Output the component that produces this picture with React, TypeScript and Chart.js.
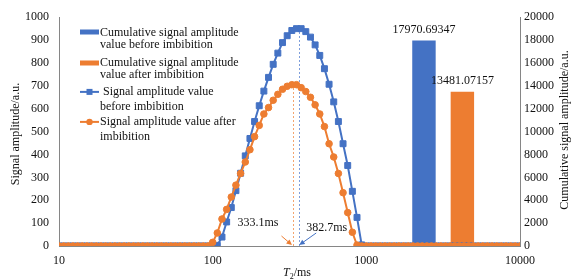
import React, { useEffect, useRef } from 'react';
import { Chart, registerables } from 'chart.js';

Chart.register(...registerables);

// T2 grid (ms), log-spaced
const T2 = [
  10, 10.72, 11.5, 12.33, 13.22, 14.17, 15.2, 16.3, 17.48, 18.74,
  20.09, 21.54, 23.1, 24.77, 26.56, 28.48, 30.54, 32.75, 35.11, 37.65,
  40.37, 43.29, 46.42, 49.77, 53.37, 57.22, 61.36, 65.79, 70.55, 75.65,
  81.11, 86.97, 93.26, 100, 107.2, 115.0, 123.3, 132.2, 141.7, 152.0,
  163.0, 174.8, 187.4, 200.9, 215.4, 231.0, 247.7, 265.6, 284.8, 305.4,
  327.5, 351.1, 376.5, 403.7, 432.9, 464.2, 497.7, 533.7, 572.2, 613.6,
  657.9, 705.5, 756.5, 811.1, 869.7, 932.6, 1000, 1072, 1150, 1233,
  1322, 1417, 1520, 1630, 1748, 1874, 2009, 2154, 2310, 2477,
  2656, 2848, 3054, 3275, 3511, 3765, 4037, 4329, 4642, 4977,
  5337, 5722, 6136, 6579, 7055, 7565, 8111, 8697, 9326, 10000,
];

// Signal amplitude before imbibition (a.u.)
const beforeAmp = [
  0, 0, 0, 0, 0, 0, 0, 0, 0, 0,
  0, 0, 0, 0, 0, 0, 0, 0, 0, 0,
  0, 0, 0, 0, 0, 0, 0, 0, 0, 0,
  0, 0, 0, 0, 3, 39, 105, 168, 242, 318,
  394, 470, 544, 613, 677, 737, 794, 843, 889, 919,
  942, 950, 950, 937, 913, 879, 833, 775, 707, 630,
  544, 447, 352, 239, 125, 5, 0, 0, 0, 0,
  0, 0, 0, 0, 0, 0, 0, 0, 0, 0,
  0, 0, 0, 0, 0, 0, 0, 0, 0, 0,
  0, 0, 0, 0, 0, 0, 0, 0, 0, 0,
];

// Signal amplitude after imbibition (a.u.)
const afterAmp = [
  0, 0, 0, 0, 0, 0, 0, 0, 0, 0,
  0, 0, 0, 0, 0, 0, 0, 0, 0, 0,
  0, 0, 0, 0, 0, 0, 0, 0, 0, 0,
  0, 0, 0, 16, 57, 118, 160, 214, 266, 317,
  367, 421, 478, 527, 577, 605, 637, 663, 685, 698,
  705, 705, 692, 675, 650, 617, 577, 522, 447, 389,
  317, 233, 146, 60, 4, 0, 0, 0, 0, 0,
  0, 0, 0, 0, 0, 0, 0, 0, 0, 0,
  0, 0, 0, 0, 0, 0, 0, 0, 0, 0,
  0, 0, 0, 0, 0, 0, 0, 0, 0, 0,
];

const xTickValues = [10, 100, 1000, 10000];
const barSlots = ['', '', '', '', '', '', '', '', '', 'Before', 'After', ''];
const cumulativeBefore = 17970.69347;
const cumulativeAfter = 13481.07157;
const cumulativeLabels = ['17970.69347', '13481.07157'];

// vertical guide lines (T2 position, top value, label)
const guideT2 = [333.1, 363];
const guideTop = [705, 950];
const guideText = ['333.1ms', '382.7ms'];

const legendTexts = [
  ['Cumulative signal amplitude', 'value before imbibition'],
  ['Cumulative signal amplitude', 'value after imbibition'],
  [' Signal amplitude value', 'before imbibition'],
  ['Signal amplitude value after', 'imbibition'],
];

const BLUE = '#4472C4';
const ORANGE = '#ED7D31';
const BLUE_LIGHT = '#7E9EDB';
const ORANGE_LIGHT = '#F3A56F';
const AXIS = '#868686';
const FONT = '"Liberation Serif", "Times New Roman", serif';
const TEXT = '#111';

function arrow(ctx: CanvasRenderingContext2D, x1: number, y1: number, x2: number, y2: number, color: string) {
  const ang = Math.atan2(y2 - y1, x2 - x1);
  const hl = 5.5;
  const hw = 2.6;
  ctx.save();
  ctx.strokeStyle = color;
  ctx.fillStyle = color;
  ctx.lineWidth = 1;
  ctx.beginPath();
  ctx.moveTo(x1, y1);
  ctx.lineTo(x2 - Math.cos(ang) * hl * 0.8, y2 - Math.sin(ang) * hl * 0.8);
  ctx.stroke();
  ctx.beginPath();
  ctx.moveTo(x2, y2);
  ctx.lineTo(x2 - Math.cos(ang) * hl - Math.sin(ang) * hw, y2 - Math.sin(ang) * hl + Math.cos(ang) * hw);
  ctx.lineTo(x2 - Math.cos(ang) * hl + Math.sin(ang) * hw, y2 - Math.sin(ang) * hl - Math.cos(ang) * hw);
  ctx.closePath();
  ctx.fill();
  ctx.restore();
}

const decorPlugin = {
  id: 'decor',
  beforeDatasetsDraw(chart: any) {
    const ctx = chart.ctx as CanvasRenderingContext2D;
    const xs = chart.scales.x;
    const ys = chart.scales.y;
    const colors = [ORANGE_LIGHT, BLUE_LIGHT];
    ctx.save();
    ctx.lineWidth = 1;
    ctx.setLineDash([2, 2]);
    guideT2.forEach((t, i) => {
      const px = Math.round(xs.getPixelForValue(t)) + 0.5;
      ctx.strokeStyle = colors[i];
      ctx.beginPath();
      ctx.moveTo(px, ys.getPixelForValue(0));
      ctx.lineTo(px, ys.getPixelForValue(guideTop[i]));
      ctx.stroke();
    });
    ctx.restore();
  },
  afterDatasetsDraw(chart: any) {
    const ctx = chart.ctx as CanvasRenderingContext2D;
    const xs = chart.scales.x;
    const ys = chart.scales.y;
    const area = chart.chartArea;
    const y0 = ys.getPixelForValue(0);

    // bar value labels
    ctx.save();
    ctx.font = `12px ${FONT}`;
    ctx.fillStyle = TEXT;
    ctx.textAlign = 'center';
    ctx.textBaseline = 'middle';
    [0, 1].forEach((di) => {
      const el = chart.getDatasetMeta(di).data[0];
      if (el) ctx.fillText(cumulativeLabels[di], el.x, el.y - 11);
    });

    // guide arrows and labels
    const xo = xs.getPixelForValue(guideT2[0]);
    const xb = xs.getPixelForValue(guideT2[1]);
    arrow(ctx, xo - 11.5, y0 - 10, xo - 1, y0 - 1, ORANGE);
    arrow(ctx, xb + 17.5, y0 - 13, xb + 0.5, y0 - 1, BLUE);
    ctx.fillStyle = TEXT;
    ctx.fillText(guideText[0], xo - 35, y0 - 23);
    ctx.fillText(guideText[1], xb + 28, y0 - 18.5);

    // legend
    const L = area.left;
    const T = area.top;
    const symX = L + 21;
    const symW = 19;
    const textX = L + 41;
    ctx.fillStyle = BLUE;
    ctx.fillRect(symX, T + 12.3, symW, 5);
    ctx.fillStyle = ORANGE;
    ctx.fillRect(symX, T + 43.3, symW, 5);
    const lineY = [T + 74.7, T + 104.7];
    [BLUE, ORANGE].forEach((c, i) => {
      ctx.strokeStyle = c;
      ctx.fillStyle = c;
      ctx.lineWidth = 2;
      ctx.beginPath();
      ctx.moveTo(symX, lineY[i]);
      ctx.lineTo(symX + symW, lineY[i]);
      ctx.stroke();
      const cx = symX + symW / 2;
      if (i === 0) {
        ctx.fillRect(cx - 3, lineY[i] - 3, 6, 6);
      } else {
        ctx.beginPath();
        ctx.arc(cx, lineY[i], 3.2, 0, Math.PI * 2);
        ctx.fill();
      }
    });
    ctx.fillStyle = TEXT;
    ctx.textAlign = 'left';
    const textY = [
      [T + 15.7, T + 27.3],
      [T + 45.7, T + 58],
      [T + 74.7, T + 90],
      [T + 104.7, T + 120],
    ];
    legendTexts.forEach((lines, i) => {
      lines.forEach((s, j) => ctx.fillText(s, textX, textY[i][j]));
    });

    // axis titles
    ctx.textAlign = 'center';
    ctx.save();
    ctx.translate(16, 134);
    ctx.rotate(-Math.PI / 2);
    ctx.fillText('Signal amplitude/a.u.', 0, 0);
    ctx.restore();
    ctx.save();
    ctx.translate(564.5, 130);
    ctx.rotate(-Math.PI / 2);
    ctx.fillText('Cumulative signal amplitude/a.u.', 0, 0);
    ctx.restore();

    // x title: T2/ms with italic T and subscript 2
    ctx.textAlign = 'left';
    ctx.textBaseline = 'alphabetic';
    const fT = `italic 12px ${FONT}`;
    const fS = `8px ${FONT}`;
    const fN = `12px ${FONT}`;
    ctx.font = fT; const wT = ctx.measureText('T').width;
    ctx.font = fS; const wS = ctx.measureText('2').width;
    ctx.font = fN; const wN = ctx.measureText('/ms').width;
    const total = wT + wS + wN;
    let tx = 297 - total / 2;
    const base = 276;
    ctx.font = fT; ctx.fillText('T', tx, base); tx += wT;
    ctx.font = fS; ctx.fillText('2', tx, base + 3); tx += wS;
    ctx.font = fN; ctx.fillText('/ms', tx, base);
    ctx.restore();
  },
};

export default function App() {
  const ref = useRef<HTMLCanvasElement | null>(null);

  useEffect(() => {
    document.body.style.margin = '0';
    const canvas = ref.current;
    if (!canvas) return;
    const tickFont = { family: FONT, size: 12 };
    const chart = new Chart(canvas, {
      type: 'line',
      data: {
        labels: barSlots,
        datasets: [
          {
            type: 'bar',
            label: legendTexts[0].join(' '),
            data: [{ x: 'Before', y: cumulativeBefore }],
            backgroundColor: BLUE,
            xAxisID: 'xb',
            yAxisID: 'y2',
            grouped: false,
            barPercentage: 0.61,
            categoryPercentage: 1,
            order: 2,
          } as any,
          {
            type: 'bar',
            label: legendTexts[1].join(' '),
            data: [{ x: 'After', y: cumulativeAfter }],
            backgroundColor: ORANGE,
            xAxisID: 'xb',
            yAxisID: 'y2',
            grouped: false,
            barPercentage: 0.61,
            categoryPercentage: 1,
            order: 2,
          } as any,
          {
            type: 'line',
            label: legendTexts[2].join(' '),
            data: T2.map((t, i) => ({ x: t, y: beforeAmp[i] })),
            borderColor: BLUE,
            backgroundColor: BLUE,
            borderWidth: 2,
            pointStyle: 'rect',
            pointRadius: 4.2,
            pointBorderWidth: 1,
            xAxisID: 'x',
            yAxisID: 'y',
            order: 1,
          },
          {
            type: 'line',
            label: legendTexts[3].join(' '),
            data: T2.map((t, i) => ({ x: t, y: afterAmp[i] })),
            borderColor: ORANGE,
            backgroundColor: ORANGE,
            borderWidth: 2,
            pointStyle: 'circle',
            pointRadius: 3.3,
            pointBorderWidth: 1,
            xAxisID: 'x',
            yAxisID: 'y',
            order: 0,
          },
        ],
      },
      options: {
        animation: false,
        responsive: false,
        devicePixelRatio: 1,
        layout: { padding: { top: 16, left: 0, right: 0, bottom: 0 } },
        plugins: {
          legend: { display: false },
          tooltip: { enabled: false },
        },
        scales: {
          x: {
            type: 'logarithmic',
            position: 'bottom',
            min: 10,
            max: 10000,
            afterBuildTicks: (s: any) => {
              s.ticks = xTickValues.map((v) => ({ value: v }));
            },
            afterFit: (s: any) => {
              s.height = 33;
            },
            ticks: {
              font: tickFont,
              color: TEXT,
              padding: 8,
              autoSkip: false,
              maxRotation: 0,
              callback: (v: any) => String(v),
            },
            grid: { display: false, drawTicks: false },
            border: { display: true, color: AXIS, width: 1 },
          },
          xb: {
            type: 'category',
            display: false,
            offset: true,
          },
          y: {
            type: 'linear',
            position: 'left',
            min: 0,
            max: 1000,
            afterFit: (s: any) => {
              s.width = 59;
            },
            ticks: {
              stepSize: 100,
              font: tickFont,
              color: TEXT,
              padding: 10,
              callback: (v: any) => String(v),
            },
            grid: { display: false, drawTicks: false },
            border: { display: true, color: AXIS, width: 1 },
          },
          y2: {
            type: 'linear',
            position: 'right',
            min: 0,
            max: 20000,
            afterFit: (s: any) => {
              s.width = 51;
            },
            ticks: {
              stepSize: 2000,
              font: tickFont,
              color: TEXT,
              padding: 4,
              callback: (v: any) => String(v),
            },
            grid: { display: false, drawTicks: false },
            border: { display: true, color: AXIS, width: 1 },
          },
        },
      } as any,
      plugins: [decorPlugin],
    });
    return () => chart.destroy();
  }, []);

  return (
    <div style={{ width: 571, height: 279, position: 'relative', background: '#fff' }}>
      <canvas ref={ref} width={571} height={279} style={{ display: 'block', width: 571, height: 279 }} />
    </div>
  );
}
